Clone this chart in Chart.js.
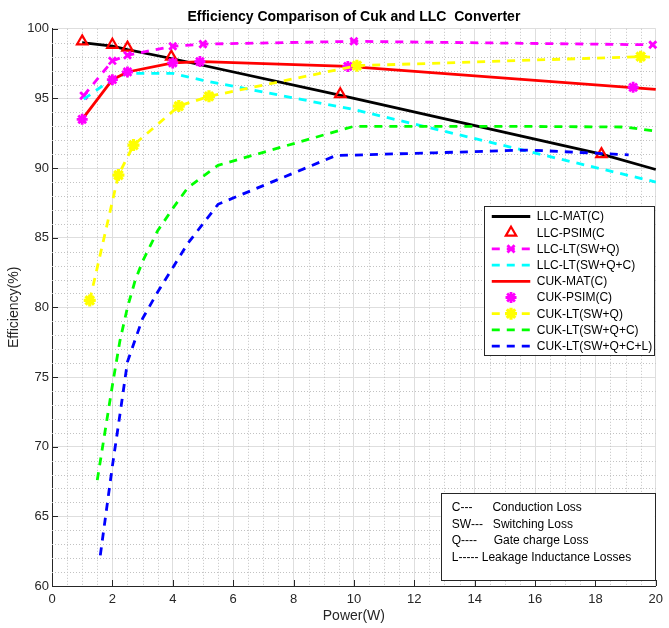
<!DOCTYPE html>
<html>
<head>
<meta charset="utf-8">
<script src="https://cdn.jsdelivr.net/npm/chart.js@4.4.0/dist/chart.umd.min.js"></script>
<style>
    html, body { margin: 0; padding: 0; background: #fff; }
    #grafico { display: block; }
</style>
</head>
<body>
<canvas id="grafico" width="669" height="628"></canvas>
<script>
// Potência (W) x eficiência (%) de cada curva
const potenciaLlcMat = [1, 2, 2.5, 4, 9.6, 18.2, 20];
const eficLlcMat = [99.0, 98.75, 98.5, 97.85, 95.2, 91.0, 89.9];

const potenciaLlcPsim = [1, 2, 2.5, 3.95, 9.55, 18.2];
const eficLlcPsim = [99.1, 98.85, 98.65, 98.0, 95.3, 91.0];

const potenciaLlcLtSwQ = [1.05, 2, 2.5, 4, 5, 10, 19.9];
const eficLlcLtSwQ = [95.2, 97.7, 98.1, 98.75, 98.9, 99.1, 98.85];

const potenciaLlcLtSwQC = [1.05, 2, 2.5, 4, 5, 10, 20];
const eficLlcLtSwQC = [94.95, 96.4, 96.8, 96.8, 96.3, 94.2, 89.0];

const potenciaCukMat = [1, 2, 2.5, 4, 5, 9.8, 20];
const eficCukMat = [93.5, 96.35, 96.9, 97.55, 97.65, 97.3, 95.65];

const potenciaCukPsim = [1, 2, 2.5, 4, 4.9, 9.8, 19.25];
const eficCukPsim = [93.5, 96.35, 96.9, 97.55, 97.65, 97.3, 95.8];

const potenciaCukLtSwQ = [1.25, 2.2, 2.7, 4.2, 5.2, 10.1, 19.5, 20];
const eficCukLtSwQ = [80.5, 89.5, 91.65, 94.45, 95.15, 97.35, 98.0, 97.95];

const potenciaCukLtSwQC = [1.5, 2, 2.25, 2.5, 2.75, 3, 3.5, 4, 4.5, 5.5, 10, 15, 19, 20];
const eficCukLtSwQC = [67.6, 74.4, 77.6, 80.0, 81.9, 83.3, 85.5, 87.1, 88.6, 90.2, 93.0, 93.0, 92.95, 92.65];

const potenciaCukLtSwQCL = [1.6, 2, 2.25, 2.5, 3, 3.5, 4, 4.5, 5.5, 9.4, 12.7, 15.8, 19.1];
const eficCukLtSwQCL = [62.2, 68.6, 72.3, 76.1, 79.2, 81.1, 82.85, 84.6, 87.4, 90.9, 91.1, 91.3, 90.95];

const rotulosSeries = [
    'LLC-MAT(C)', 'LLC-PSIM(C', 'LLC-LT(SW+Q)', 'LLC-LT(SW+Q+C)', 'CUK-MAT(C)',
    'CUK-PSIM(C)', 'CUK-LT(SW+Q)', 'CUK-LT(SW+Q+C)', 'CUK-LT(SW+Q+C+L)'
];

const ticksPotencia = [0, 2, 4, 6, 8, 10, 12, 14, 16, 18, 20];
const ticksEficiencia = [60, 65, 70, 75, 80, 85, 90, 95, 100];

const notasPerdas = [
    'C---      Conduction Loss',
    'SW---   Switching Loss',
    'Q----     Gate charge Loss',
    'L----- Leakage Inductance Losses'
];

const FONTE = '"Liberation Sans", Arial, Helvetica, sans-serif';
const COR_EIXO = '#262626';
const TRACO = [8, 7];

Chart.defaults.font.family = FONTE;

function montarSerie(indice, xs, ys, estilo) {
    return Object.assign({
        label: rotulosSeries[indice],
        data: xs.map((x, i) => ({ x: x, y: ys[i] })),
        showLine: true,
        tension: 0,
        fill: false,
        clip: false,
        borderWidth: 2.8,
        pointRadius: 0,
        pointHoverRadius: 0,
        order: -indice
    }, estilo);
}

const datasets = [
    montarSerie(0, potenciaLlcMat, eficLlcMat, { borderColor: '#000000' }),
    montarSerie(1, potenciaLlcPsim, eficLlcPsim, {
        showLine: false, borderColor: '#ff0000', pointStyle: 'triangle', pointRadius: 6,
        pointBorderWidth: 2.2, pointBorderColor: '#ff0000', pointBackgroundColor: 'rgba(0,0,0,0)'
    }),
    montarSerie(2, potenciaLlcLtSwQ, eficLlcLtSwQ, {
        borderColor: '#ff00ff', borderDash: TRACO, pointStyle: 'crossRot', pointRadius: 5,
        pointBorderWidth: 2.8, pointBorderColor: '#ff00ff', pointBackgroundColor: '#ff00ff'
    }),
    montarSerie(3, potenciaLlcLtSwQC, eficLlcLtSwQC, { borderColor: '#00ffff', borderDash: TRACO }),
    montarSerie(4, potenciaCukMat, eficCukMat, { borderColor: '#ff0000' }),
    montarSerie(5, potenciaCukPsim, eficCukPsim, {
        showLine: false, borderColor: '#ff00ff', pointStyle: 'star', pointRadius: 5.5,
        pointBorderWidth: 2.8, pointBorderColor: '#ff00ff', pointBackgroundColor: '#ff00ff'
    }),
    montarSerie(6, potenciaCukLtSwQ, eficCukLtSwQ, {
        borderColor: '#ffff00', borderDash: TRACO, pointStyle: 'star',
        pointRadius: potenciaCukLtSwQ.map((p, i) => i < potenciaCukLtSwQ.length - 1 ? 6 : 0),
        pointBorderWidth: 3.2, pointBorderColor: '#ffff00', pointBackgroundColor: '#ffff00'
    }),
    montarSerie(7, potenciaCukLtSwQC, eficCukLtSwQC, { borderColor: '#00ff00', borderDash: TRACO }),
    montarSerie(8, potenciaCukLtSwQCL, eficCukLtSwQCL, { borderColor: '#0000ff', borderDash: TRACO })
];

// Grade secundária pontilhada e marcas de escala voltadas para dentro
const gradeMenor = {
    id: 'gradeMenor',
    beforeDatasetsDraw(chart) {
        const { ctx, chartArea: a, scales: { x, y } } = chart;
        ctx.save();
        ctx.strokeStyle = '#c2c2c2';
        ctx.lineWidth = 1;
        ctx.setLineDash([1, 2]);
        ctx.beginPath();
        for (let v = 0.5; v < 20; v += 0.5) {
            if (v % 2 === 0) continue;
            const px = Math.round(x.getPixelForValue(v)) + 0.5;
            ctx.moveTo(px, a.top);
            ctx.lineTo(px, a.bottom);
        }
        for (let v = 61; v < 100; v++) {
            if (v % 5 === 0) continue;
            const py = Math.round(y.getPixelForValue(v)) + 0.5;
            ctx.moveTo(a.left, py);
            ctx.lineTo(a.right, py);
        }
        ctx.stroke();

        ctx.setLineDash([]);
        ctx.strokeStyle = COR_EIXO;
        ctx.beginPath();
        ticksPotencia.forEach(v => {
            const px = Math.round(x.getPixelForValue(v)) + 0.5;
            ctx.moveTo(px, a.bottom);
            ctx.lineTo(px, a.bottom - 6);
        });
        ticksEficiencia.forEach(v => {
            const py = Math.round(y.getPixelForValue(v)) + 0.5;
            ctx.moveTo(a.left, py);
            ctx.lineTo(a.left + 6, py);
        });
        ctx.stroke();
        ctx.restore();
    }
};

function desenharMarcador(ctx, ds, cx, cy) {
    const raio = Array.isArray(ds.pointRadius) ? ds.pointRadius[0] : ds.pointRadius;
    if (!raio) return;
    ctx.setLineDash([]);
    ctx.strokeStyle = ds.pointBorderColor;
    ctx.fillStyle = ds.pointBackgroundColor;
    ctx.lineWidth = ds.pointBorderWidth;
    Chart.helpers.drawPoint(ctx, {
        pointStyle: ds.pointStyle, radius: raio, borderWidth: ds.pointBorderWidth, rotation: 0
    }, cx, cy);
}

// Legenda dentro da área do gráfico e caixa com as notas de perdas
const legendaInterna = {
    id: 'legendaInterna',
    afterDatasetsDraw(chart) {
        const { ctx, chartArea: a } = chart;
        ctx.save();

        const lx = a.right - 172, ly = a.top + 177, lw = 170, lh = 149;
        ctx.fillStyle = '#ffffff';
        ctx.fillRect(lx, ly, lw, lh);
        ctx.strokeStyle = COR_EIXO;
        ctx.lineWidth = 1;
        ctx.strokeRect(Math.round(lx) + 0.5, Math.round(ly) + 0.5, lw, lh);

        chart.data.datasets.forEach((ds, i) => {
            const cy = ly + 10.7 + i * 16.2;
            const xa = lx + 8, xb = lx + 46.5;
            if (ds.showLine) {
                ctx.strokeStyle = ds.borderColor;
                ctx.lineWidth = ds.borderWidth;
                ctx.setLineDash(ds.borderDash || []);
                ctx.beginPath();
                ctx.moveTo(xa, cy);
                ctx.lineTo(xb, cy);
                ctx.stroke();
            }
            desenharMarcador(ctx, ds, (xa + xb) / 2, cy);
            ctx.fillStyle = '#000000';
            ctx.font = '12px ' + FONTE;
            ctx.textBaseline = 'middle';
            ctx.textAlign = 'left';
            ctx.fillText(ds.label, lx + 53, cy + 0.5);
        });

        const nx = a.right - 215, ny = 493, nw = 214, nh = 87;
        ctx.setLineDash([]);
        ctx.fillStyle = '#ffffff';
        ctx.fillRect(nx, ny, nw, nh);
        ctx.strokeStyle = COR_EIXO;
        ctx.lineWidth = 1;
        ctx.strokeRect(Math.round(nx) + 0.5, ny + 0.5, nw, nh);
        ctx.fillStyle = '#000000';
        ctx.font = '12px ' + FONTE;
        ctx.textBaseline = 'middle';
        notasPerdas.forEach((linha, i) => {
            ctx.fillText(linha, nx + 11, ny + 14.5 + i * 16.8);
        });

        ctx.restore();
    }
};

const ctx = document.getElementById('grafico').getContext('2d');
window.chartEficiencia = new Chart(ctx, {
    type: 'scatter',
    data: { datasets: datasets },
    options: {
        responsive: false,
        devicePixelRatio: 1,
        animation: false,
        events: [],
        layout: { padding: { left: 0, right: 8, top: 0, bottom: 0 } },
        plugins: {
            legend: { display: false },
            tooltip: { enabled: false },
            title: {
                display: true,
                fullSize: false,
                text: 'Efficiency Comparison of Cuk and LLC  Converter',
                color: '#000000',
                font: { size: 14, weight: 'bold' },
                padding: { top: 9, bottom: 3 }
            }
        },
        scales: {
            x: {
                type: 'linear',
                min: 0,
                max: 20,
                afterBuildTicks: s => { s.ticks = ticksPotencia.map(v => ({ value: v })); },
                afterFit: s => { s.height = 42; },
                ticks: { color: COR_EIXO, font: { size: 13 }, padding: 6, maxRotation: 0 },
                grid: { color: '#dedede', lineWidth: 1, drawTicks: false },
                border: { color: COR_EIXO, width: 1 },
                title: {
                    display: true, text: 'Power(W)', color: COR_EIXO,
                    font: { size: 14 }, padding: { top: 0, bottom: 3 }
                }
            },
            y: {
                type: 'linear',
                min: 60,
                max: 100,
                afterBuildTicks: s => { s.ticks = ticksEficiencia.map(v => ({ value: v })); },
                afterFit: s => { s.width = 52; },
                ticks: { color: COR_EIXO, font: { size: 13 }, padding: 3 },
                grid: { color: '#dedede', lineWidth: 1, drawTicks: false },
                border: { color: COR_EIXO, width: 1 },
                title: {
                    display: true, text: 'Efficiency(%)', color: COR_EIXO,
                    font: { size: 14 }, padding: { top: 6, bottom: 0 }
                }
            }
        }
    },
    plugins: [gradeMenor, legendaInterna]
});
</script>
</body>
</html>
